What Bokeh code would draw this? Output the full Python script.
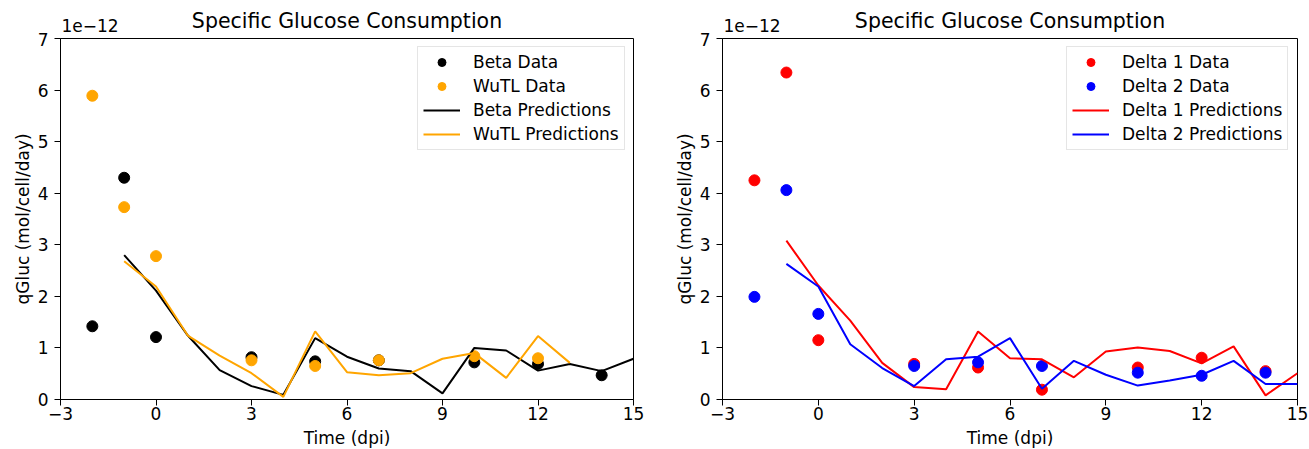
from bokeh.plotting import figure
from bokeh.layouts import row, column
from bokeh.models import FixedTicker, Legend, LegendItem, Label, Range1d
from bokeh.embed import file_html
from bokeh.resources import INLINE

# Specific glucose consumption, values in units of 1e-12 mol/cell/day
data_days = [-2, -1, 0, 3, 5, 7, 10, 12, 14]
beta_data = [1.42, 4.30, 1.21, 0.82, 0.74, 0.76, 0.72, 0.69, 0.47]
wutl_days = [-2, -1, 0, 3, 5, 7, 10, 12]
wutl_data = [5.89, 3.73, 2.78, 0.76, 0.65, 0.76, 0.84, 0.80]

pred_days = list(range(-1, 16))
beta_pred = [2.80, 2.11, 1.24, 0.57, 0.26, 0.09, 1.19, 0.83, 0.60, 0.55,
             0.12, 1.00, 0.95, 0.56, 0.69, 0.55, 0.79]
wutl_pred_days = list(range(-1, 14))
wutl_pred = [2.68, 2.19, 1.24, 0.85, 0.51, 0.05, 1.32, 0.53, 0.47, 0.51,
             0.79, 0.90, 0.42, 1.23, 0.71]

delta1_data = [4.25, 6.34, 1.15, 0.69, 0.62, 0.19, 0.62, 0.81, 0.55]
delta2_data = [1.99, 4.06, 1.66, 0.65, 0.72, 0.65, 0.52, 0.46, 0.52]
delta1_pred = [3.08, 2.21, 1.53, 0.71, 0.24, 0.20, 1.32, 0.80, 0.78, 0.43,
               0.93, 1.01, 0.94, 0.70, 1.03, 0.08, 0.51]
delta2_pred = [2.63, 2.19, 1.07, 0.61, 0.26, 0.78, 0.83, 1.19, 0.21, 0.75,
               0.48, 0.27, 0.37, 0.48, 0.75, 0.30, 0.30]

x_ticks = [-3, 0, 3, 6, 9, 12, 15]
y_ticks = [0, 1, 2, 3, 4, 5, 6, 7]
X_MIN, X_MAX = -3, 15
Y_MIN, Y_MAX = 0, 7

TITLE = "Specific Glucose Consumption"
X_LABEL = "Time (dpi)"
Y_LABEL = "qGluc (mol/cell/day)"
OFFSET_TEXT = "1e\u221212"

FONT = "DejaVu Sans"
FS = "17px"

HEADER_H = 32     # strip holding the title and the axis scale factor
BOX_H = 361       # height of the axes box
GAP_TOP = 6       # room for the top tick label above the box


def make_header(total_w, border_left, box_w):
    """Title strip above one panel; its coordinates are canvas pixels."""
    h = figure(
        output_backend="svg", toolbar_location=None,
        width=total_w, height=HEADER_H,
        min_border=0, x_axis_type=None, y_axis_type=None,
        x_range=Range1d(0, total_w), y_range=Range1d(HEADER_H, 0),
    )
    h.outline_line_color = None
    h.grid.visible = False
    h.add_layout(Label(x=border_left + box_w / 2, y=20, text=TITLE,
                       text_align="center", text_baseline="alphabetic",
                       text_font=FONT, text_font_size="20.5px",
                       text_color="black"))
    h.add_layout(Label(x=border_left + 1, y=25, text=OFFSET_TEXT,
                       text_align="left", text_baseline="alphabetic",
                       text_font=FONT, text_font_size=FS, text_color="black"))
    return h


def make_panel(border_left, box_w, total_w):
    p = figure(
        output_backend="svg", toolbar_location=None,
        frame_width=box_w, frame_height=BOX_H,
        min_border_left=border_left,
        min_border_right=total_w - border_left - box_w,
        min_border_top=GAP_TOP, min_border_bottom=50,
        x_range=Range1d(X_MIN, X_MAX), y_range=Range1d(Y_MIN, Y_MAX),
    )
    p.xgrid.visible = False
    p.ygrid.visible = False
    p.outline_line_color = "black"
    p.outline_line_width = 1
    p.outline_line_alpha = 1

    p.xaxis.ticker = FixedTicker(ticks=x_ticks)
    p.yaxis.ticker = FixedTicker(ticks=y_ticks)
    for ax in (p.xaxis, p.yaxis):
        ax.axis_line_color = "black"
        ax.major_tick_line_color = "black"
        ax.major_tick_out = 6
        ax.major_tick_in = 0
        ax.minor_tick_line_color = None
        ax.major_label_text_font = FONT
        ax.major_label_text_font_size = FS
        ax.major_label_text_color = "black"
        ax.axis_label_text_font = FONT
        ax.axis_label_text_font_size = FS
        ax.axis_label_text_font_style = "normal"
        ax.axis_label_text_color = "black"
    p.xaxis.axis_label = X_LABEL
    p.yaxis.axis_label = Y_LABEL
    p.xaxis.major_label_standoff = 1
    p.yaxis.major_label_standoff = 6
    p.xaxis.axis_label_standoff = 5
    p.yaxis.axis_label_standoff = 2
    return p


def style_legend(items, loc):
    lg = Legend(items=items, location=loc)
    lg.label_text_font = FONT
    lg.label_text_font_size = FS
    lg.label_text_color = "black"
    lg.border_line_color = "#cccccc"
    lg.border_line_width = 1
    lg.background_fill_alpha = 0.8
    lg.glyph_width = 37
    lg.glyph_height = 20
    lg.label_height = 20
    lg.spacing = 4
    lg.padding = 5
    lg.margin = 0
    lg.label_standoff = 13
    return lg


# Left panel: Beta and WuTL
left_head = make_header(654, 60, 573)
left = make_panel(60, 573, 654)
r_beta = left.scatter(data_days, beta_data, size=11, color="black")
r_wutl = left.scatter(wutl_days, wutl_data, size=11, color="orange")
l_beta = left.line(pred_days, beta_pred, line_width=2, color="black")
l_wutl = left.line(wutl_pred_days, wutl_pred, line_width=2, color="orange")
left.add_layout(style_legend([
    LegendItem(label="Beta Data", renderers=[r_beta]),
    LegendItem(label="WuTL Data", renderers=[r_wutl]),
    LegendItem(label="Beta Predictions", renderers=[l_beta]),
    LegendItem(label="WuTL Predictions", renderers=[l_wutl]),
], (357, 249)))

# Right panel: Delta 1 and Delta 2
right_head = make_header(655, 68, 575)
right = make_panel(68, 575, 655)
r_d1 = right.scatter(data_days, delta1_data, size=11, color="red")
r_d2 = right.scatter(data_days, delta2_data, size=11, color="blue")
l_d1 = right.line(pred_days, delta1_pred, line_width=2, color="red")
l_d2 = right.line(pred_days, delta2_pred, line_width=2, color="blue")
right.add_layout(style_legend([
    LegendItem(label="Delta 1 Data", renderers=[r_d1]),
    LegendItem(label="Delta 2 Data", renderers=[r_d2]),
    LegendItem(label="Delta 1 Predictions", renderers=[l_d1]),
    LegendItem(label="Delta 2 Predictions", renderers=[l_d2]),
], (344, 249)))

layout = column(row(left_head, right_head), row(left, right))
open("out.html", "w").write(file_html(layout, INLINE))
